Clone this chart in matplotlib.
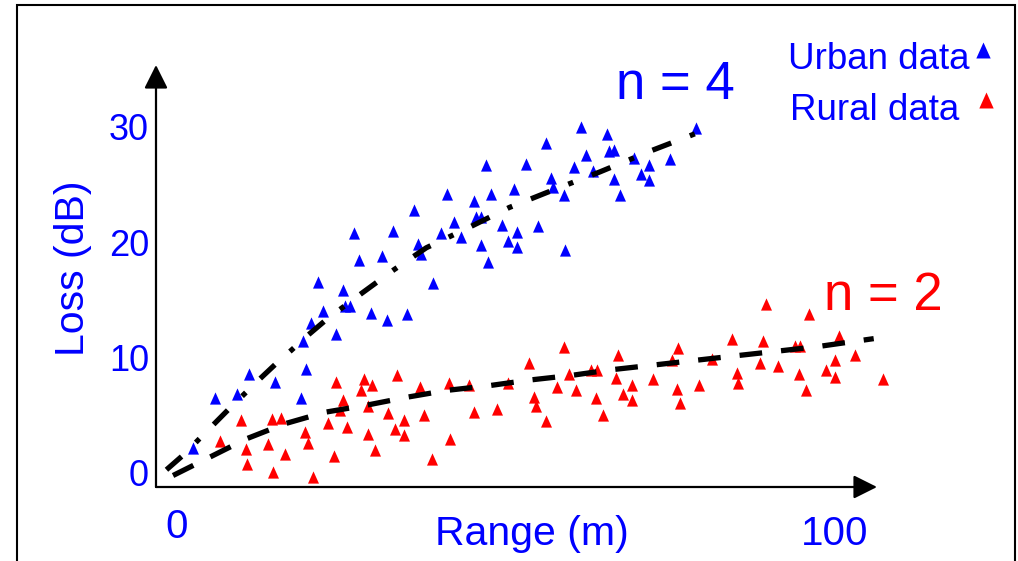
import matplotlib
matplotlib.use("Agg")
import matplotlib.pyplot as plt
from matplotlib.patches import Rectangle
from matplotlib.lines import Line2D
from matplotlib.transforms import ScaledTranslation

plt.rcParams['font.family'] = ['Liberation Sans', 'DejaVu Sans']

# urban measurements: range (m) / loss (dB)
urban_range = [41.1, 36.1, 26.9, 32.9, 40.2, 36.7, 37.1, 27.7, 31.1, 21.4, 25.3, 38.9,
               61.4, 78.9, 65.3, 56.1, 65.6, 66.5, 62.2, 69.5, 75.0, 71.8, 47.0, 53.0,
               60.3, 63.2, 70.5, 71.8, 56.9, 66.4, 57.1, 47.8, 51.2, 58.8, 67.3, 45.2,
               45.4, 46.2, 42.1, 49.4, 54.9, 51.7, 43.1, 50.3, 46.2, 51.7, 47.3, 59.0,
               22.2, 25.6, 26.3, 29.5, 31.9, 35.0, 20.4, 24.1, 19.1, 19.6, 11.0, 14.9,
               5.8, 9.1, 18.8, 2.4]
urban_loss = [24.2, 22.8, 20.8, 21.0, 20.8, 19.8, 19.0, 18.4, 18.8, 16.5, 15.8, 16.4,
              30.0, 29.9, 29.4, 28.6, 27.9, 28.0, 27.6, 27.3, 27.2, 26.7, 26.7, 26.8,
              26.5, 26.2, 25.9, 25.4, 25.6, 25.5, 24.8, 24.2, 24.6, 24.1, 24.1, 23.6,
              22.2, 22.2, 21.7, 21.5, 21.4, 20.9, 20.4, 20.1, 19.7, 19.6, 18.3, 19.3,
              14.0, 14.4, 14.4, 13.8, 13.2, 13.7, 13.0, 12.0, 11.4, 9.0, 8.5, 7.8,
              6.4, 6.8, 6.4, 2.1]

# rural measurements
rural_range = [24.1, 28.5, 29.7, 33.4, 37.0, 41.3, 27.9, 25.3, 24.8, 29.0, 32.1, 9.7,
               14.4, 15.8, 22.9, 25.9, 34.5, 37.6, 33.1, 34.5, 19.5, 29.0, 6.5, 19.9,
               10.5, 13.9, 16.4, 30.1, 23.8, 38.7, 41.5, 10.7, 14.6, 20.7, 44.4, 50.3,
               53.5, 58.8, 59.6, 57.7, 63.0, 63.8, 67.1, 66.8, 69.2, 67.8, 69.2, 72.3,
               75.3, 76.2, 76.0, 76.5, 79.4, 81.3, 84.3, 85.1, 85.3, 60.6, 63.7, 64.7,
               54.3, 54.6, 56.1, 45.2, 48.6, 89.6, 96.1, 89.1, 93.9, 94.7, 100.6, 103.1,
               88.6, 91.4, 100.0, 98.7, 94.5, 100.0, 95.6, 107.3]
rural_loss = [7.8, 8.1, 7.6, 8.4, 7.4, 7.7, 7.1, 6.3, 5.4, 5.7, 5.1, 4.5,
              4.6, 4.7, 4.3, 3.9, 4.5, 5.0, 3.7, 3.2, 3.5, 3.3, 2.7, 2.5,
              2.0, 2.4, 1.6, 1.9, 1.4, 1.1, 2.9, 0.7, 0.0, -0.4, 7.6, 7.7,
              9.5, 10.9, 8.5, 7.4, 8.9, 8.9, 10.2, 8.2, 7.6, 6.8, 6.3, 8.1,
              9.7, 10.8, 7.2, 6.0, 7.6, 9.8, 11.6, 8.6, 7.7, 7.1, 6.4, 5.0,
              6.5, 5.7, 4.4, 5.2, 5.5, 14.6, 13.7, 11.4, 11.0, 11.0, 11.8, 10.2,
              9.5, 9.2, 9.7, 8.9, 8.5, 8.3, 7.1, 8.1]

# fitted path-loss curves as drawn
fit4_range = [-1.6, 1.0, 5.5, 8.1, 12.6, 15.2, 17.4, 19.7, 22.8, 27.5, 33.0, 37.9,
              44.5, 50.5, 56.2, 64.3, 71.9, 77.8, 81.3]
fit4_loss = [0.2, 1.5, 4.1, 5.6, 8.1, 9.5, 10.6, 11.8, 13.3, 15.3, 17.6, 19.5,
             21.3, 23.0, 24.3, 26.1, 27.9, 29.2, 30.0]
fit2_range = [-0.6, 5.0, 10.6, 16.4, 22.5, 28.7, 34.9, 41.0, 47.3, 53.6, 59.9, 66.1,
              72.4, 78.6, 84.8, 91.1, 97.3, 105.9]
fit2_loss = [-0.3, 1.3, 2.9, 4.2, 5.2, 5.8, 6.5, 7.1, 7.5, 8.0, 8.4, 8.9,
             9.3, 9.7, 10.1, 10.5, 10.9, 11.6]

x_ticks = [0, 100]
y_ticks = [0, 10, 20, 30]

blue = '#0000ff'
red = '#ff0000'
tri = [(-0.9, -1), (0.9, -1), (0, 1), (-0.9, -1)]

W, H = 1018, 561
fig = plt.figure(figsize=(W / 100, H / 100), dpi=100)
ax = fig.add_axes([156 / W, 74 / H, 721 / W, 422 / H])
ax.set_xlim(-3.19, 106.4)
ax.set_ylim(-1.30, 35.39)

ax.plot(urban_range, urban_loss, ls='none', marker=tri, ms=8.8, color=blue,
        mec='none', clip_on=False, zorder=2)
ax.plot(rural_range, rural_loss, ls='none', marker=tri, ms=8.8, color=red,
        mec='none', clip_on=False, zorder=2)

ax.plot(fit4_range, fit4_loss, color='black', lw=3.8, ls=(0, (3.8, 3.8, 1, 3.8)),
        clip_on=False, zorder=3)
ax.plot(fit2_range, fit2_loss, color='black', lw=3.8, ls=(0, (4.3, 3.6)),
        clip_on=False, zorder=3)

ax.text(75.8, 32.4, 'n = 4', color=blue, fontsize=38, ha='center', va='baseline')
ax.text(107.4, 14.1, 'n = 2', color=red, fontsize=38, ha='center', va='baseline')

# arrow axes
for spine in ax.spines.values():
    spine.set_visible(False)
arrow = dict(arrowstyle='-|>,head_length=1.44,head_width=0.72', mutation_scale=10,
             lw=1.6, color='black', shrinkA=0, shrinkB=0)
ax.annotate('', xy=(1, 0), xytext=(0, 0), xycoords='axes fraction', arrowprops=arrow)
ax.annotate('', xy=(0, 1), xytext=(0, 0), xycoords='axes fraction', arrowprops=arrow)

ax.set_xticks(x_ticks)
ax.set_yticks(y_ticks)
ax.tick_params(axis='x', length=0, pad=15, labelsize=29, labelcolor=blue)
ax.tick_params(axis='y', length=0, pad=5, labelsize=26, labelcolor=blue)
lab100 = ax.get_xticklabels()[1]
lab100.set_transform(lab100.get_transform() + ScaledTranslation(0, -0.07, fig.dpi_scale_trans))

ax.set_xlabel('Range (m)', fontsize=29.5, color=blue, va='center')
ax.xaxis.set_label_coords((532 - 156) / 721, (487 - 534) / 422)
ax.set_ylabel('Loss (dB)', fontsize=29.5, color=blue, va='center')
ax.yaxis.set_label_coords((73 - 156) / 721, (487 - 268) / 422)

# key in the top right corner
fig.text(788 / W, 1 - 69 / H, 'Urban data', color=blue, fontsize=26.5, va='baseline')
fig.text(790 / W, 1 - 120 / H, 'Rural data', color=blue, fontsize=26.5, va='baseline')
fig.add_artist(Line2D([983 / W], [1 - 50 / H], marker=tri, ms=11.5, color=blue,
                      mec='none', transform=fig.transFigure))
fig.add_artist(Line2D([986 / W], [1 - 100 / H], marker=tri, ms=11.5, color=red,
                      mec='none', transform=fig.transFigure))

# slide frame
fig.add_artist(Rectangle((17 / W, -0.1), (1015 - 17) / W, 1.1 - 5 / H,
                         transform=fig.transFigure, fill=False, lw=1.5,
                         edgecolor='black'))

fig.savefig('out.png', dpi=100)
